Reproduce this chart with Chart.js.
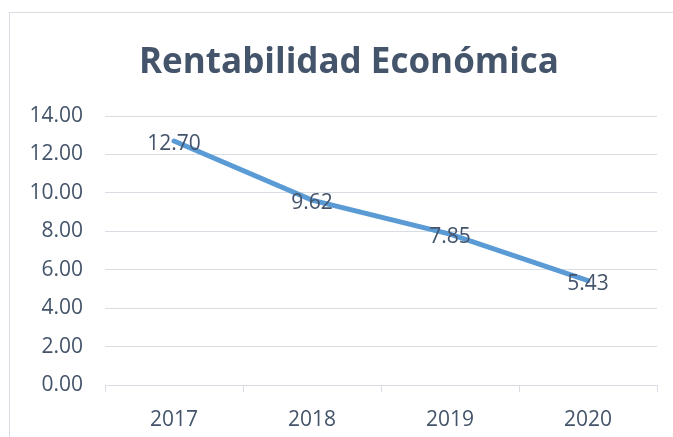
<!DOCTYPE html>
<html>
<head>
<meta charset="utf-8">
<script src="https://cdn.jsdelivr.net/npm/chart.js@4/dist/chart.umd.min.js"></script>
<style>
  html, body { margin: 0; padding: 0; background: #fff; overflow: hidden; }
  #wrap { position: relative; width: 673px; height: 437px; }
  #frame { position: absolute; left: 9px; top: 12px; width: 700px; height: 500px; border: 1px solid #D9DDE3; box-sizing: border-box; }
  #title { position: absolute; left: 0; top: 39px; width: 698px; text-align: center; font: bold 35px "Open Sans", "Liberation Sans", sans-serif; line-height: 42px; color: #44546A; z-index: 2; }
  canvas { position: absolute; left: 0; top: 0; }
</style>
</head>
<body>
<div id="wrap">
  <div id="frame"></div>
  <div id="title">Rentabilidad Económica</div>
  <canvas id="chart" width="673" height="437"></canvas>
</div>
<script>
var years = ['2017', '2018', '2019', '2020'];
var rentabilidad = [12.70, 9.62, 7.85, 5.43];
var yMin = 0, yMax = 14, yStep = 2;

var textColor = '#44546A';
var gridColor = '#D9DDE3';
var font = '"Open Sans", "Liberation Sans", sans-serif';

// draws the value of each point centred on it, like Excel's "center" label
var pointLabels = {
  id: 'pointLabels',
  afterDatasetsDraw: function (chart) {
    var ctx = chart.ctx;
    var meta = chart.getDatasetMeta(0);
    ctx.save();
    ctx.font = '21px ' + font;
    ctx.fillStyle = textColor;
    ctx.textAlign = 'center';
    ctx.textBaseline = 'middle';
    meta.data.forEach(function (pt, i) {
      ctx.fillText(rentabilidad[i].toFixed(2), pt.x, pt.y + 3);
    });
    ctx.restore();
  }
};

new Chart(document.getElementById('chart'), {
  type: 'line',
  data: {
    labels: years,
    datasets: [{
      data: rentabilidad,
      borderColor: '#5B9BD5',
      borderWidth: 5,
      borderCapStyle: 'round',
      pointRadius: 0,
      tension: 0,
      fill: false
    }]
  },
  options: {
    responsive: false,
    animation: false,
    layout: { padding: { left: 10, right: 16, top: 116, bottom: 0 } },
    plugins: {
      legend: { display: false },
      tooltip: { enabled: false },
      title: { display: false }
    },
    scales: {
      x: {
        offset: true,
        afterFit: function (s) { s.height = 52; },
        grid: { offset: true, drawOnChartArea: false, drawTicks: true, tickLength: 7, color: gridColor },
        border: { display: true, color: gridColor },
        ticks: { color: textColor, font: { family: font, size: 21 }, padding: 15 }
      },
      y: {
        min: yMin,
        max: yMax,
        afterFit: function (s) { s.width = 95; },
        grid: { color: gridColor, drawTicks: false },
        border: { display: false },
        ticks: {
          stepSize: yStep,
          color: textColor,
          font: { family: font, size: 21 },
          padding: 22,
          callback: function (v) { return v.toFixed(2); }
        }
      }
    }
  },
  plugins: [pointLabels]
});
</script>
</body>
</html>
